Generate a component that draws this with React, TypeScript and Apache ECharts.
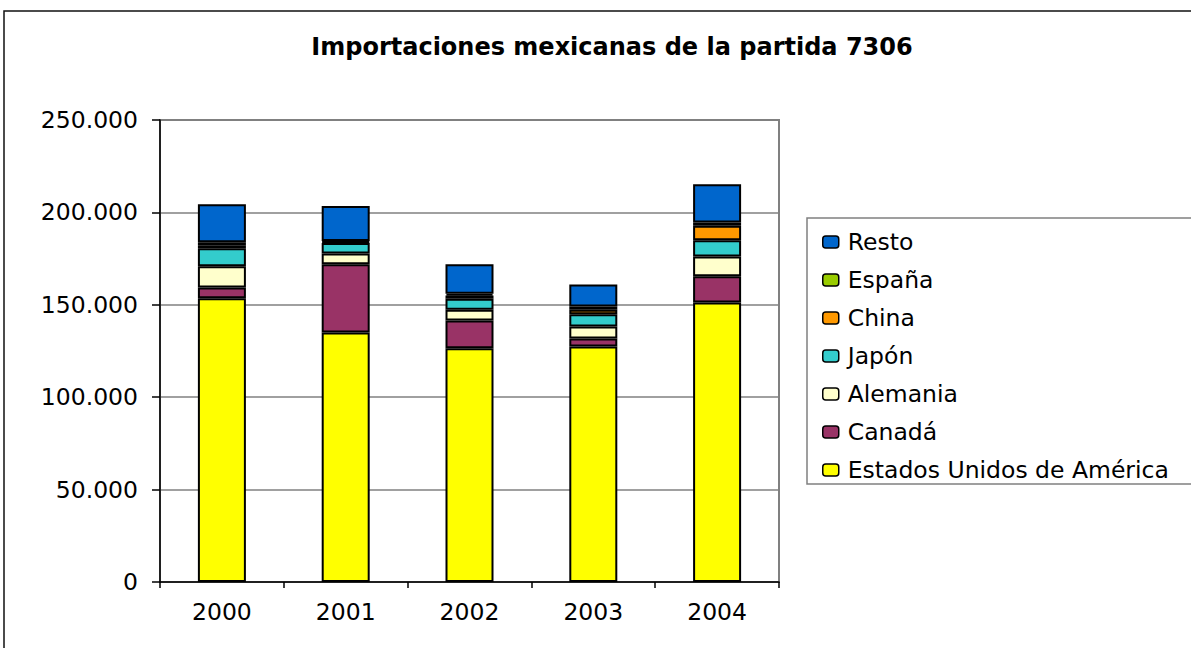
import React, { useEffect, useRef } from "react";
import * as echarts from "echarts";

const years = ["2000", "2001", "2002", "2003", "2004"];
const eeuu = [153500, 135000, 126500, 127400, 151300];
const canada = [5900, 36900, 15000, 4400, 14100];
const alemania = [11400, 5800, 5800, 6500, 10800];
const japon = [9800, 5800, 6000, 6600, 8700];
const china = [1600, 500, 1700, 2400, 7900];
const espana = [1600, 500, 1000, 1800, 1700];
const resto = [20600, 19000, 15900, 11900, 20800];

const seriesDefs = [
  { name: "Estados Unidos de América", data: eeuu, color: "#FFFF00" },
  { name: "Canadá", data: canada, color: "#993366" },
  { name: "Alemania", data: alemania, color: "#FFFFCC" },
  { name: "Japón", data: japon, color: "#33CCCC" },
  { name: "China", data: china, color: "#FF9900" },
  { name: "España", data: espana, color: "#99CC00" },
  { name: "Resto", data: resto, color: "#0066CC" },
];
const legendOrder = ["Resto", "España", "China", "Japón", "Alemania", "Canadá", "Estados Unidos de América"];

const FONT = "DejaVu Sans";
const FS = 23.5;

export default function App() {
  const ref = useRef<HTMLDivElement>(null);
  useEffect(() => {
    if (!ref.current) return;
    const chart = echarts.init(ref.current, null, { renderer: "svg" });
    chart.setOption({
      animation: false,
      backgroundColor: "#ffffff",
      title: {
        text: "Importaciones mexicanas de la partida 7306",
        left: 607,
        textAlign: "center",
        top: 30,
        textStyle: { fontFamily: FONT, fontSize: 24, fontWeight: "bold", color: "#000" },
      },
      grid: {
        left: 160,
        right: 412,
        top: 120,
        bottom: 66,
        show: true,
        borderColor: "#808080",
        borderWidth: 2,
        backgroundColor: "transparent",
      },
      legend: {
        orient: "vertical",
        left: 817,
        top: 225,
        data: legendOrder,
        itemWidth: 16,
        itemHeight: 12,
        itemGap: 14,
        selectedMode: false,
        itemStyle: { borderColor: "#000", borderWidth: 1.5 },
        textStyle: { fontFamily: FONT, fontSize: FS, color: "#000", lineHeight: 24, padding: [0, 0, 0, 4] },
      },
      xAxis: {
        type: "category",
        data: years,
        boundaryGap: true,
        axisLine: { lineStyle: { color: "#000", width: 1.5 } },
        axisTick: { show: true, alignWithLabel: false, length: 6, lineStyle: { color: "#000", width: 1.5 } },
        axisLabel: { fontFamily: FONT, fontSize: FS, color: "#000", margin: 18 },
      },
      yAxis: {
        type: "value",
        min: 0,
        max: 250000,
        interval: 50000,
        axisLine: { show: true, lineStyle: { color: "#000", width: 1.5 } },
        axisTick: { show: true, length: 8, lineStyle: { color: "#000", width: 1.5 } },
        axisLabel: {
          fontFamily: FONT,
          fontSize: FS,
          color: "#000",
          margin: 22,
          formatter: (v: number) => (v === 0 ? "0" : String(v).replace(/\B(?=(\d{3})+(?!\d))/g, ".")),
        },
        splitLine: { show: true, lineStyle: { color: "#808080", width: 1.5 } },
      },
      series: seriesDefs.map((s) => ({
        name: s.name,
        type: "bar",
        stack: "total",
        data: s.data,
        barWidth: 48,
        itemStyle: { color: s.color, borderColor: "#000", borderWidth: 2 },
      })),
      graphic: [
        {
          type: "polyline",
          shape: { points: [[4, 700], [4, 11], [1200, 11]] },
          style: { stroke: "#111", lineWidth: 1.5, fill: "none" },
          silent: true,
        },
        {
          type: "rect",
          shape: { x: 807, y: 218, width: 420, height: 266 },
          style: { stroke: "#808080", lineWidth: 1.5, fill: "none" },
          silent: true,
        },
      ],
    });
    return () => chart.dispose();
  }, []);
  return (
    <div
      ref={ref}
      style={{ position: "fixed", left: 0, top: 0, width: 1191, height: 648, background: "#fff" }}
    />
  );
}
